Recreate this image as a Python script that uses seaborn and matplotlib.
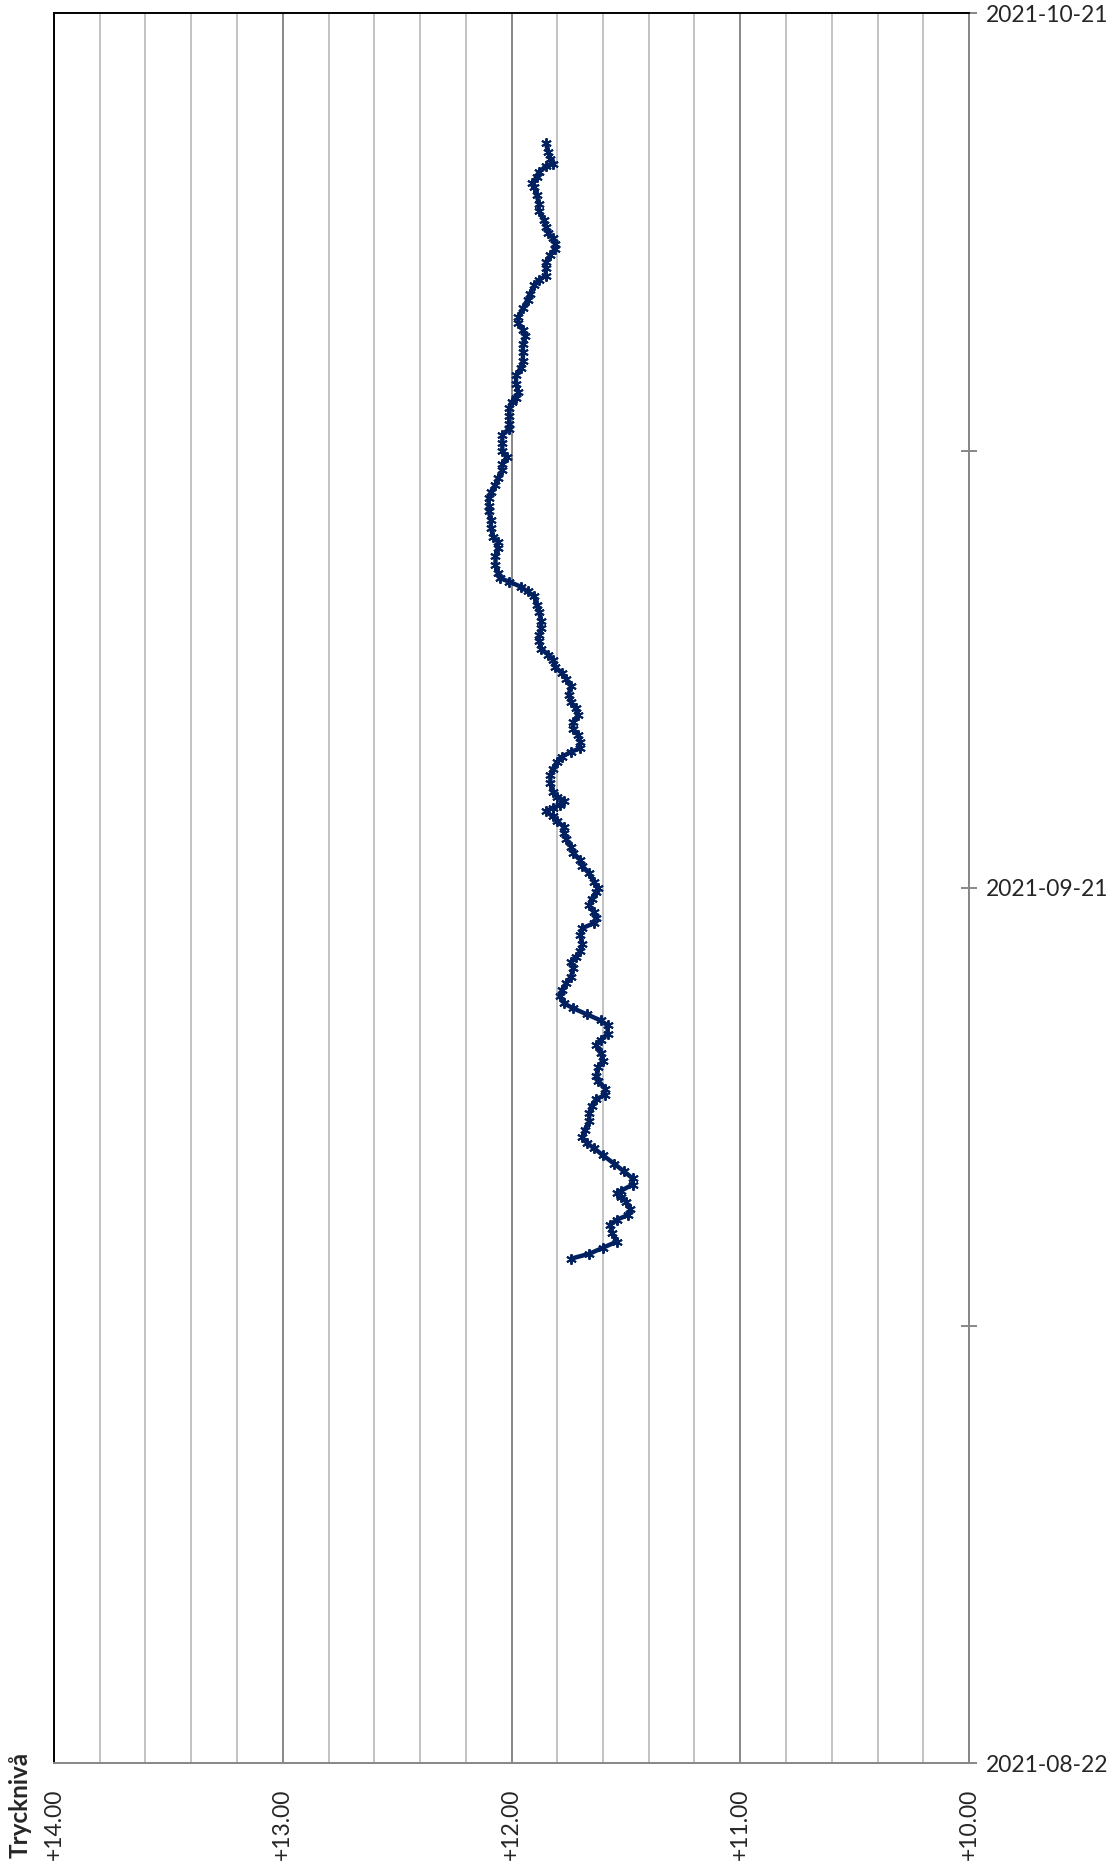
import matplotlib
matplotlib.use("Agg")
import matplotlib.pyplot as plt
import matplotlib.dates as mdates
import matplotlib.ticker as mticker
import pandas as pd
import seaborn as sns

# tryckniva, avläst ur referensen (tid, nivå)
times = [
    "2021-09-08 07:00", "2021-09-08 11:00", "2021-09-08 16:00", "2021-09-08 21:00",
    "2021-09-09 04:00", "2021-09-09 11:00", "2021-09-09 15:00", "2021-09-09 19:00",
    "2021-09-10 00:00", "2021-09-10 06:00", "2021-09-10 10:00", "2021-09-10 13:00",
    "2021-09-10 15:00", "2021-09-10 20:00", "2021-09-11 01:00", "2021-09-11 07:00",
    "2021-09-11 13:00", "2021-09-11 20:00", "2021-09-12 02:00", "2021-09-12 06:00",
    "2021-09-12 11:00", "2021-09-12 17:00", "2021-09-13 00:00", "2021-09-13 07:00",
    "2021-09-13 13:00", "2021-09-13 18:00", "2021-09-13 22:00", "2021-09-14 03:00",
    "2021-09-14 09:00", "2021-09-14 13:00", "2021-09-14 21:00", "2021-09-15 02:00",
    "2021-09-15 08:00", "2021-09-15 15:00", "2021-09-15 19:00", "2021-09-16 00:00",
    "2021-09-16 07:00", "2021-09-16 11:00", "2021-09-16 16:00", "2021-09-16 21:00",
    "2021-09-17 01:00", "2021-09-17 07:00", "2021-09-17 12:00", "2021-09-17 18:00",
    "2021-09-17 23:00", "2021-09-18 06:00", "2021-09-18 11:00", "2021-09-18 15:00",
    "2021-09-18 20:00", "2021-09-19 02:00", "2021-09-19 09:00", "2021-09-19 15:00",
    "2021-09-19 19:00", "2021-09-19 23:00", "2021-09-20 04:00", "2021-09-20 10:00",
    "2021-09-20 15:00", "2021-09-20 21:00", "2021-09-21 00:00", "2021-09-21 05:00",
    "2021-09-21 12:00", "2021-09-21 18:00", "2021-09-21 23:00", "2021-09-22 05:00",
    "2021-09-22 10:00", "2021-09-22 16:00", "2021-09-22 21:00", "2021-09-23 02:00",
    "2021-09-23 07:00", "2021-09-23 11:00", "2021-09-23 15:00", "2021-09-23 18:00",
    "2021-09-23 20:00", "2021-09-24 00:00", "2021-09-24 03:00", "2021-09-24 07:00",
    "2021-09-24 14:00", "2021-09-24 21:00", "2021-09-25 02:00", "2021-09-25 08:00",
    "2021-09-25 12:00", "2021-09-25 16:00", "2021-09-25 19:00", "2021-09-26 00:00",
    "2021-09-26 06:00", "2021-09-26 11:00", "2021-09-26 17:00", "2021-09-26 22:00",
    "2021-09-27 04:00", "2021-09-27 09:00", "2021-09-27 15:00", "2021-09-27 22:00",
    "2021-09-28 04:00", "2021-09-28 09:00", "2021-09-28 14:00", "2021-09-28 20:00",
    "2021-09-29 00:00", "2021-09-29 05:00", "2021-09-29 11:00", "2021-09-29 16:00",
    "2021-09-29 22:00", "2021-09-30 04:00", "2021-09-30 11:00", "2021-09-30 17:00",
    "2021-10-01 00:00", "2021-10-01 04:00", "2021-10-01 08:00", "2021-10-01 12:00",
    "2021-10-01 15:00", "2021-10-01 19:00", "2021-10-02 02:00", "2021-10-02 09:00",
    "2021-10-02 16:00", "2021-10-02 21:00", "2021-10-03 01:00", "2021-10-03 08:00",
    "2021-10-03 15:00", "2021-10-03 22:00", "2021-10-04 02:00", "2021-10-04 09:00",
    "2021-10-04 14:00", "2021-10-04 20:00", "2021-10-05 01:00", "2021-10-05 08:00",
    "2021-10-05 13:00", "2021-10-05 19:00", "2021-10-06 00:00", "2021-10-06 06:00",
    "2021-10-06 13:00", "2021-10-06 18:00", "2021-10-06 22:00", "2021-10-07 04:00",
    "2021-10-07 11:00", "2021-10-07 16:00", "2021-10-07 19:00", "2021-10-08 00:00",
    "2021-10-08 07:00", "2021-10-08 14:00", "2021-10-08 20:00", "2021-10-09 02:00",
    "2021-10-09 09:00", "2021-10-09 16:00", "2021-10-09 22:00", "2021-10-10 03:00",
    "2021-10-10 09:00", "2021-10-10 14:00", "2021-10-10 21:00", "2021-10-11 04:00",
    "2021-10-11 09:00", "2021-10-11 16:00", "2021-10-11 20:00", "2021-10-12 00:00",
    "2021-10-12 06:00", "2021-10-12 11:00", "2021-10-12 17:00", "2021-10-12 22:00",
    "2021-10-13 02:00", "2021-10-13 07:00", "2021-10-13 11:00", "2021-10-13 16:00",
    "2021-10-13 22:00", "2021-10-14 05:00", "2021-10-14 11:00", "2021-10-14 18:00",
    "2021-10-15 01:00", "2021-10-15 04:00", "2021-10-15 09:00", "2021-10-15 13:00",
    "2021-10-15 18:00", "2021-10-15 20:00", "2021-10-16 00:00", "2021-10-16 06:00",
    "2021-10-16 13:00",
]
levels = [
    11.74, 11.66, 11.60, 11.54,
    11.56, 11.57, 11.54, 11.49,
    11.48, 11.50, 11.52, 11.54,
    11.52, 11.47, 11.47, 11.51,
    11.55, 11.60, 11.64, 11.67,
    11.69, 11.68, 11.66, 11.66,
    11.65, 11.63, 11.59, 11.59,
    11.62, 11.63, 11.62, 11.60,
    11.61, 11.63, 11.61, 11.58,
    11.58, 11.61, 11.67, 11.73,
    11.77, 11.79, 11.78, 11.76,
    11.74, 11.73, 11.74, 11.72,
    11.70, 11.69, 11.70, 11.69,
    11.64, 11.63, 11.64, 11.66,
    11.65, 11.63, 11.62, 11.64,
    11.66, 11.69, 11.70, 11.73,
    11.74, 11.76, 11.77, 11.77,
    11.80, 11.82, 11.85, 11.82,
    11.79, 11.77, 11.80, 11.82,
    11.83, 11.83, 11.82, 11.80,
    11.78, 11.74, 11.70, 11.70,
    11.71, 11.73, 11.73, 11.71,
    11.72, 11.74, 11.75, 11.74,
    11.76, 11.78, 11.81, 11.82,
    11.84, 11.87, 11.88, 11.88,
    11.87, 11.87, 11.88, 11.89,
    11.90, 11.93, 11.96, 12.01,
    12.05, 12.06, 12.07, 12.07,
    12.06, 12.06, 12.08, 12.09,
    12.09, 12.10, 12.10, 12.10,
    12.09, 12.07, 12.06, 12.04,
    12.04, 12.02, 12.04, 12.04,
    12.04, 12.01, 12.01, 12.01,
    12.01, 12.00, 11.98, 11.97,
    11.98, 11.98, 11.96, 11.95,
    11.95, 11.95, 11.94, 11.95,
    11.97, 11.97, 11.95, 11.93,
    11.92, 11.90, 11.88, 11.85,
    11.85, 11.85, 11.83, 11.81,
    11.81, 11.82, 11.84, 11.85,
    11.86, 11.88, 11.88, 11.89,
    11.90, 11.91, 11.89, 11.88,
    11.85, 11.82, 11.83, 11.84,
    11.85,
]

value_ticks = [14.0, 13.0, 12.0, 11.0, 10.0]
date_labels = ["2021-08-22", "2021-09-21", "2021-10-21"]
date_minor = ["2021-09-06", "2021-10-06"]

sns.set_style("white")
plt.rcParams["font.family"] = ["Lato", "DejaVu Sans"]

df = pd.DataFrame({"tid": pd.to_datetime(times), "niva": levels})

fig = plt.figure(figsize=(11.2, 18.7), dpi=100)
ax = fig.add_axes([54 / 1120, 107 / 1870, 915 / 1120, 1750 / 1870])

navy = "#002060"
gray = "#878787"
sns.lineplot(data=df, x="niva", y="tid", orient="y", sort=False, estimator=None,
             color=navy, lw=3.2, marker=(6, 2, 0), markersize=7.5,
             markeredgewidth=1.4, markeredgecolor=navy, ax=ax)

# värdeaxel (liggande, omvänd)
ax.set_xlim(value_ticks[0], value_ticks[-1])
ax.xaxis.set_major_locator(mticker.FixedLocator(value_ticks))
ax.xaxis.set_minor_locator(mticker.MultipleLocator(0.2))
ax.xaxis.set_major_formatter(mticker.FuncFormatter(lambda v, p: f"+{v:.2f}"))
ax.set_axisbelow(True)
ax.grid(which="major", axis="x", color=gray, lw=1.4)
ax.grid(which="minor", axis="x", color="#c3c3c3", lw=1.4)
ax.tick_params(axis="x", which="both", direction="out", length=4.5, width=1.4,
               color=gray, pad=14, labelsize=16.5, labelrotation=90)

# datumaxel till höger
dl = pd.to_datetime(date_labels)
ax.set_ylim(dl[0], dl[-1])
ax.yaxis.tick_right()
ax.yaxis.set_major_locator(mticker.FixedLocator(mdates.date2num(dl)))
ax.yaxis.set_minor_locator(mticker.FixedLocator(mdates.date2num(pd.to_datetime(date_minor))))
ax.yaxis.set_major_formatter(mdates.DateFormatter("%Y-%m-%d"))
ax.tick_params(axis="y", which="both", direction="inout", length=11, width=1.4,
               color=gray, pad=7, labelsize=16.5, left=False)

for side in ["left", "top"]:
    ax.spines[side].set_color("black")
    ax.spines[side].set_linewidth(1.4)
for side in ["right", "bottom"]:
    ax.spines[side].set_color(gray)
    ax.spines[side].set_linewidth(1.4)

ax.set_xlabel("")
ax.set_ylabel("")
fig.text(20 / 1120, 65 / 1870, "Trycknivå", rotation=90, ha="center", va="center",
         fontsize=17.5, fontweight="bold")

fig.savefig("out.png", dpi=100)
